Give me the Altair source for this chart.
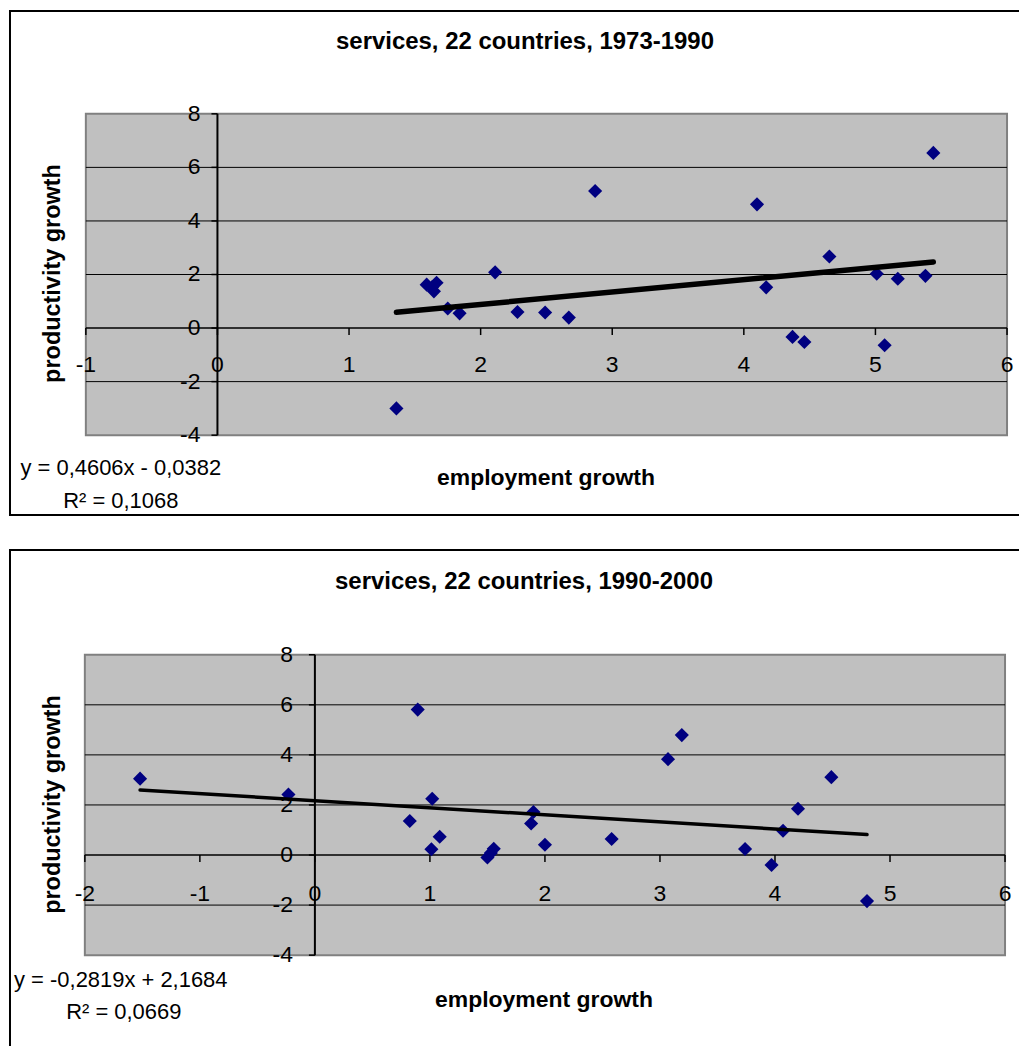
import altair as alt
import pandas as pd

# ---------------- data ----------------
# panel 1: services, 1973-1990
emp_7390 = [1.36, 1.59, 1.63, 1.645, 1.665, 1.75, 1.84, 2.11, 2.28, 2.49, 2.67, 2.87,
            4.10, 4.17, 4.37, 4.46, 4.65, 5.01, 5.07, 5.17, 5.38, 5.44]
prod_7390 = [-3.0, 1.62, 1.52, 1.37, 1.69, 0.73, 0.55, 2.08, 0.60, 0.58, 0.39, 5.12,
             4.62, 1.52, -0.33, -0.52, 2.67, 2.03, -0.64, 1.84, 1.95, 6.54]
# panel 2: services, 1990-2000
emp_9000 = [-1.52, -0.23, 0.825, 0.894, 1.013, 1.02, 1.085, 1.50, 1.53, 1.555, 1.88,
            1.90, 2.0, 2.58, 3.07, 3.19, 3.74, 3.97, 4.07, 4.20, 4.49, 4.80]
prod_9000 = [3.05, 2.42, 1.36, 5.81, 0.23, 2.25, 0.73, -0.10, 0.08, 0.25, 1.26,
             1.72, 0.41, 0.64, 3.83, 4.79, 0.24, -0.40, 0.97, 1.85, 3.11, -1.84]

titles = ["services, 22 countries, 1973-1990", "services, 22 countries, 1990-2000"]
eq_texts = ["y = 0,4606x - 0,0382", "y = -0,2819x + 2,1684"]
r2_texts = ["R\u00b2 = 0,1068", "R\u00b2 = 0,0669"]
slopes = [0.4606, -0.2819]
intercepts = [-0.0382, 2.1684]
x_ticks_1 = [-1, 0, 1, 2, 3, 4, 5, 6]
x_ticks_2 = [-2, -1, 0, 1, 2, 3, 4, 5, 6]
y_ticks = [-4, -2, 0, 2, 4, 6, 8]
grid_y = [-2, 2, 4, 6]
x_title = "employment growth"
y_title = "productivity growth"

FONT = "Liberation Sans"
W = 1012


def panel(emp, prod, slope, icpt, xticks, title, eq, r2, H, xr, yr,
          trend_w, lab_dy, ylab_dx, pos, bottom_border):
    xdom = [xticks[0], xticks[-1]]
    xs = alt.Scale(domain=xdom, range=xr, nice=False, zero=False)
    ys = alt.Scale(domain=[-4, 8], range=yr, nice=False, zero=False)
    one = pd.DataFrame({"a": [0]})
    px_per_x = (xr[1] - xr[0]) / (xdom[1] - xdom[0])
    px_per_y = (yr[0] - yr[1]) / 12.0

    def XD(v):
        return alt.X(datum=v, type="quantitative", scale=xs, axis=None)

    def YD(v):
        return alt.Y(datum=v, type="quantitative", scale=ys, axis=None)

    layers = []
    # outer frame (top, left, optional bottom); the right side lies beyond the page
    frame = pd.DataFrame({"x": [0, 1, 0], "x2": [W, 1, W], "y": [1, 0, H - 1], "y2": [1, H, H - 1]})
    if not bottom_border:
        frame = frame.iloc[:2]
    layers.append(alt.Chart(frame).mark_rule(color="black", strokeWidth=2).encode(
        x=alt.X("x:Q", scale=None, axis=None), x2="x2:Q",
        y=alt.Y("y:Q", scale=None, axis=None), y2="y2:Q"))

    # plot area
    layers.append(alt.Chart(one).mark_rect(fill="#C0C0C0", stroke="#808080", strokeWidth=2).encode(
        x=XD(xdom[0]), x2=alt.X2(datum=xdom[1]), y=YD(-4), y2=alt.Y2(datum=8)))
    # gridlines
    layers.append(alt.Chart(pd.DataFrame({"g": grid_y})).mark_rule(color="black", strokeWidth=1).encode(
        y=alt.Y("g:Q", scale=ys, axis=None), x=XD(xdom[0]), x2=alt.X2(datum=xdom[1])))
    # axis lines
    layers.append(alt.Chart(one).mark_rule(color="black", strokeWidth=1.5).encode(
        y=YD(0), x=XD(xdom[0]), x2=alt.X2(datum=xdom[1])))
    layers.append(alt.Chart(one).mark_rule(color="black", strokeWidth=2).encode(
        x=XD(0), y=YD(-4), y2=alt.Y2(datum=8)))
    # ticks
    xt = pd.DataFrame({"t": xticks, "lab": [str(t) for t in xticks]})
    yt = pd.DataFrame({"t": y_ticks, "lab": [str(t) for t in y_ticks]})
    layers.append(alt.Chart(xt).mark_rule(color="black", strokeWidth=1.5).encode(
        x=alt.X("t:Q", scale=xs, axis=None), y=YD(0), y2=alt.Y2(datum=-7.0 / px_per_y)))
    layers.append(alt.Chart(yt).mark_rule(color="black", strokeWidth=1.5).encode(
        y=alt.Y("t:Q", scale=ys, axis=None), x=XD(0), x2=alt.X2(datum=-6.0 / px_per_x)))
    # tick labels
    layers.append(alt.Chart(xt).mark_text(font=FONT, fontSize=23, color="black", align="center",
                                          baseline="middle", dy=lab_dy).encode(
        x=alt.X("t:Q", scale=xs, axis=None), y=YD(0), text="lab:N"))
    layers.append(alt.Chart(yt).mark_text(font=FONT, fontSize=23, color="black", align="right",
                                          baseline="middle", dx=ylab_dx).encode(
        y=alt.Y("t:Q", scale=ys, axis=None), x=XD(0), text="lab:N"))
    # points
    pts = pd.DataFrame({"emp": emp, "prod": prod})
    layers.append(alt.Chart(pts).mark_point(shape="diamond", filled=True, fill="#000080",
                                            color="#000080", size=200, opacity=1, strokeWidth=0).encode(
        x=alt.X("emp:Q", scale=xs, axis=None), y=alt.Y("prod:Q", scale=ys, axis=None)))
    # trend line from given equation
    x0, x1 = min(emp), max(emp)
    tr = pd.DataFrame({"x": [x0, x1], "y": [slope * x0 + icpt, slope * x1 + icpt]})
    layers.append(alt.Chart(tr).mark_line(color="black", strokeWidth=trend_w, strokeCap="round").encode(
        x=alt.X("x:Q", scale=xs, axis=None), y=alt.Y("y:Q", scale=ys, axis=None)))
    # texts
    def txt(s, p, size, bold=False, angle=0):
        kw = dict(text=s, font=FONT, fontSize=size, color="black", align="center", baseline="middle")
        if bold:
            kw["fontWeight"] = "bold"
        if angle:
            kw["angle"] = angle
        return alt.Chart(one).mark_text(**kw).encode(x=alt.value(p[0]), y=alt.value(p[1]))

    layers.append(txt(title, pos["title"], 24, bold=True))
    layers.append(txt(x_title, pos["xt"], 23, bold=True))
    layers.append(txt(y_title, pos["yt"], 23.5, bold=True, angle=270))
    layers.append(txt(eq, pos["eq"], 22))
    layers.append(txt(r2, pos["r2"], 22))

    return alt.layer(*layers).properties(width=W, height=H).resolve_scale(x="independent", y="independent")


p1 = panel(emp_7390, prod_7390, slopes[0], intercepts[0], x_ticks_1, titles[0], eq_texts[0], r2_texts[0],
           H=507, xr=[77, 1000], yr=[426, 104], trend_w=5.5, lab_dy=37, ylab_dx=-17,
           pos={"title": [517, 32], "xt": [538, 469], "yt": [44, 264], "eq": [112, 459], "r2": [112, 492]},
           bottom_border=True)
p2 = panel(emp_9000, prod_9000, slopes[1], intercepts[1], x_ticks_2, titles[1], eq_texts[1], r2_texts[1],
           H=498, xr=[76, 998], yr=[407, 106], trend_w=3.5, lab_dy=39, ylab_dx=-22,
           pos={"title": [516, 33], "xt": [536, 452], "yt": [44, 256], "eq": [112, 432], "r2": [115, 464]},
           bottom_border=False)

chart = (alt.vconcat(p1, p2, spacing=31)
         .properties(padding=0, background="white")
         .configure_view(stroke="transparent", strokeWidth=0))

chart.save("out.html", embed_options={"renderer": "svg", "actions": False})
